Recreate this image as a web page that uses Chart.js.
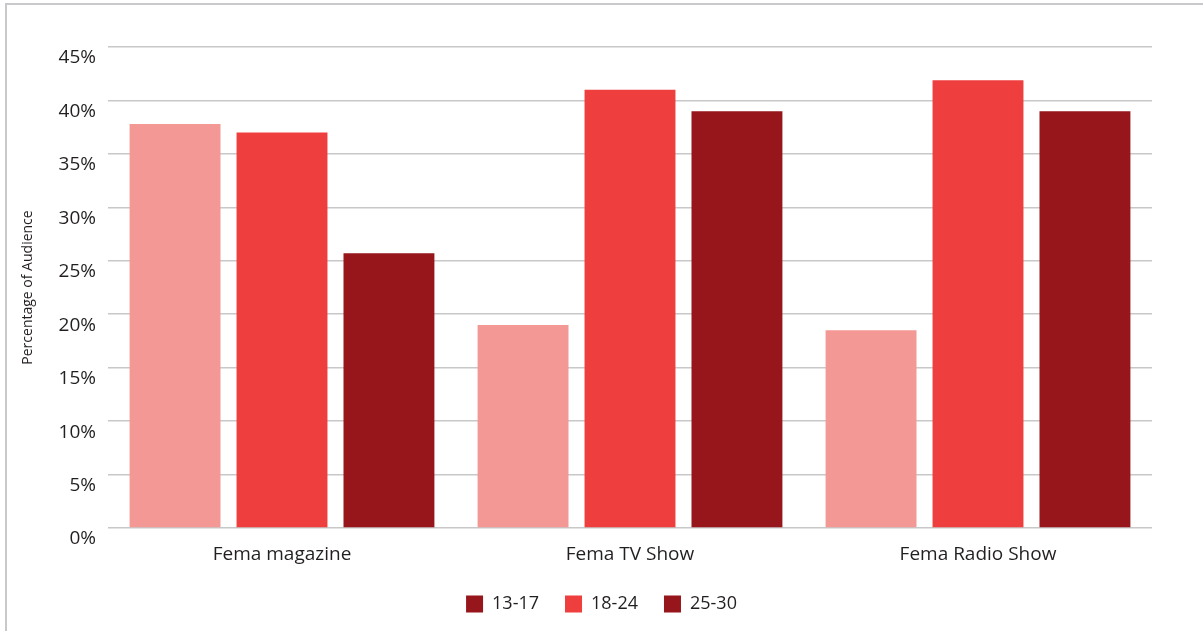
<!DOCTYPE html>
<html>
<head>
<meta charset="utf-8">
<script src="https://cdn.jsdelivr.net/npm/chart.js@4.4.1/dist/chart.umd.min.js"></script>
<style>
  html, body { margin: 0; padding: 0; background: #fff; overflow: hidden; }
  #frame {
    position: absolute; left: 5px; top: 3px; width: 1400px; height: 800px;
    border-top: 2px solid #c9c9cd; border-left: 2px solid #c9c9cd;
  }
  #wrap { position: absolute; left: 0; top: 0; width: 1203px; height: 631px; }
</style>
</head>
<body>
<div id="frame"></div>
<div id="wrap"><canvas id="chart" width="1203" height="631"></canvas></div>
<script>
const categories = ['Fema magazine', 'Fema TV Show', 'Fema Radio Show'];
const seriesNames = ['13-17', '18-24', '25-30'];
const age13to17 = [37.8, 19.0, 18.5];
const age18to24 = [37.0, 41.0, 41.9];
const age25to30 = [25.7, 39.0, 39.0];
const yTicks = [0, 5, 10, 15, 20, 25, 30, 35, 40, 45];

const barColors = ['#f49896', '#ef3e3e', '#96161b'];
const legendColors = ['#96161b', '#ef3e3e', '#96161b'];
const FONT = '"Open Sans", "Liberation Sans", sans-serif';
const TEXT = '#231f20';

// Centre the legend on the whole canvas rather than on the padded layout box.
const legendShift = {
  id: 'legendShift',
  afterLayout(chart) {
    const lg = chart.legend;
    if (!lg) return;
    const dx = chart.width / 2 - (lg.left + lg.right) / 2;
    lg.left += dx;
    lg.right += dx;
  }
};

new Chart(document.getElementById('chart'), {
  type: 'bar',
  data: {
    labels: categories,
    datasets: [age13to17, age18to24, age25to30].map((vals, i) => ({
      label: seriesNames[i],
      data: vals,
      backgroundColor: barColors[i],
      borderWidth: 0,
      categoryPercentage: 0.922,
      barPercentage: 0.85
    }))
  },
  plugins: [legendShift],
  options: {
    responsive: false,
    animation: false,
    layout: { padding: { left: 14, right: 51, top: 47, bottom: 8 } },
    plugins: {
      tooltip: { enabled: false },
      legend: {
        position: 'bottom',
        labels: {
          font: { family: FONT, size: 18 },
          color: TEXT,
          boxWidth: 17,
          boxHeight: 17,
          padding: 26,
          generateLabels: (chart) => chart.data.datasets.map((ds, i) => ({
            text: ds.label,
            fillStyle: legendColors[i],
            strokeStyle: legendColors[i],
            lineWidth: 0,
            fontColor: TEXT,
            datasetIndex: i
          }))
        }
      }
    },
    scales: {
      x: {
        afterFit: (s) => { s.height = 41; },
        grid: { display: false },
        border: { display: false },
        ticks: { font: { family: FONT, size: 19 }, color: TEXT, padding: 7 }
      },
      y: {
        min: 0,
        max: 45,
        afterBuildTicks: (s) => { s.ticks = yTicks.map(v => ({ value: v })); },
        afterFit: (s) => { s.width = 94; },
        grid: { color: '#c8c8c8', lineWidth: 1.5, drawTicks: false },
        border: { display: false },
        ticks: {
          font: { family: FONT, size: 19 },
          color: TEXT,
          padding: 12,
          labelOffset: 11,
          callback: (v) => v + '%'
        },
        title: {
          display: true,
          text: 'Percentage of Audience',
          font: { family: FONT, size: 14 },
          color: TEXT,
          padding: { top: 6, bottom: 0 }
        }
      }
    }
  }
});
</script>
</body>
</html>
